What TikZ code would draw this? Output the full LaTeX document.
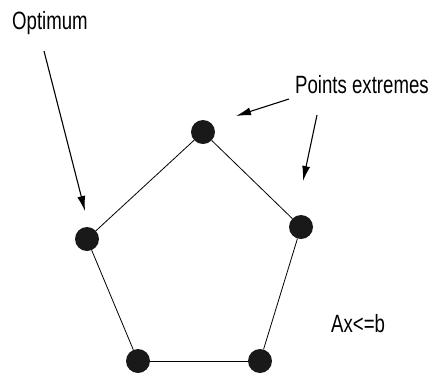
\documentclass[tikz,border=0pt]{standalone}
\usepackage{fontspec}
\newfontfamily\narrowfont[FakeStretch=0.745]{Liberation Sans}
\usetikzlibrary{arrows.meta}

\begin{document}
\begin{tikzpicture}[
  x=1pt, y=-1pt,
  vertex/.style={circle, fill=black!90, minimum size=24pt, inner sep=0pt},
  label/.style={anchor=base west, inner sep=0pt,
    font=\narrowfont\fontsize{25}{30}\selectfont},
  edge/.style={draw=black, line width=0.8pt},
  pointer/.style={draw=black, line width=1.1pt, -{Latex[length=15pt, width=8pt]}}
]
  \useasboundingbox (0,0) rectangle (432,376);

  % Extreme points of the polytope.
  \node[vertex] (top) at (203,132) {};
  \node[vertex] (right) at (301,227) {};
  \node[vertex] (botR) at (260,361) {};
  \node[vertex] (botL) at (138,361) {};
  \node[vertex] (left) at (87,239) {};

  % Polytope edges.
  \draw[edge] (top)--(right); \draw[edge] (right)--(botR);
  \draw[edge] (botR)--(botL); \draw[edge] (botL)--(left);
  \draw[edge] (left)--(top);

  % Labels.
  \node[label] (opt) at (12,29) {Optimum};
  \node[label] (ext) at (295,93) {Points extremes};
  \node[label] (cons) at (331,332) {Ax<=b};

  % Pointer ends.
  \coordinate (optS) at (44,51);
  \coordinate (optE) at (85,211);
  \coordinate (extS1) at (289,99);
  \coordinate (extE1) at (236,116);
  \coordinate (extS2) at (317,115);
  \coordinate (extE2) at (303,181);

  \draw[pointer] (optS)--(optE);
  \draw[pointer] (extS1)--(extE1);
  \draw[pointer] (extS2)--(extE2);
\end{tikzpicture}
\end{document}
